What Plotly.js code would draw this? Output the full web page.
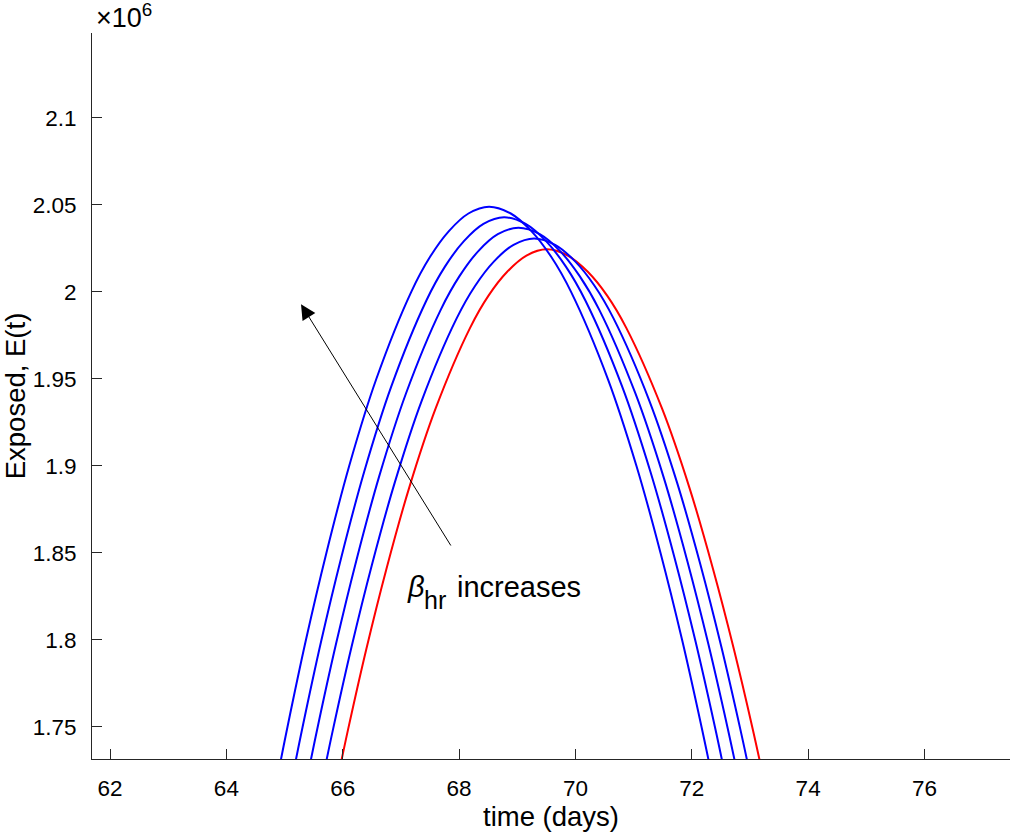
<!DOCTYPE html>
<html>
<head>
<meta charset="utf-8">
<script src="https://cdn.plot.ly/plotly-3.0.1.min.js"></script>
<style>
  html, body { margin: 0; padding: 0; background: #ffffff; }
  #chart { width: 1011px; height: 835px; }
</style>
</head>
<body>
<div id="chart"></div>
<script>
// Exposed population E(t), in units of 10^6, vs time (days)
const tBase = [65.916, 66.092, 66.406, 66.751, 67.139, 67.597, 68.189, 68.506, 68.827, 69.158, 69.507, 69.869, 70.212, 70.545, 70.874, 71.488, 71.963, 72.365, 72.723, 73.049, 73.231];
const eBase = [1.7208, 1.7486, 1.7948, 1.8408, 1.8871, 1.9330, 1.9793, 1.9978, 2.0115, 2.0208, 2.0244, 2.0208, 2.0115, 1.9978, 1.9793, 1.9330, 1.8871, 1.8408, 1.7948, 1.7486, 1.7208];

const tBeta1 = [65.657, 65.835, 66.153, 66.502, 66.894, 67.357, 67.956, 68.277, 68.601, 68.936, 69.289, 69.651, 69.995, 70.328, 70.657, 71.271, 71.747, 72.149, 72.507, 72.833, 73.016];
const eBeta1 = [1.7205, 1.7489, 1.7962, 1.8432, 1.8904, 1.9374, 1.9846, 2.0035, 2.0175, 2.0270, 2.0307, 2.0270, 2.0175, 2.0035, 1.9846, 1.9374, 1.8904, 1.8432, 1.7962, 1.7489, 1.7205];

const tBeta2 = [65.387, 65.565, 65.883, 66.232, 66.624, 67.087, 67.686, 68.007, 68.331, 68.666, 69.019, 69.387, 69.736, 70.073, 70.408, 71.031, 71.514, 71.923, 72.286, 72.617, 72.803];
const eBeta2 = [1.7203, 1.7493, 1.7975, 1.8454, 1.8937, 1.9416, 1.9898, 2.0090, 2.0234, 2.0331, 2.0368, 2.0331, 2.0234, 2.0090, 1.9898, 1.9416, 1.8937, 1.8454, 1.7975, 1.7493, 1.7203];

const tBeta3 = [65.129, 65.308, 65.626, 65.977, 66.370, 66.835, 67.436, 67.757, 68.083, 68.419, 68.773, 69.144, 69.495, 69.836, 70.173, 70.802, 71.288, 71.700, 72.067, 72.400, 72.587];
const eBeta3 = [1.7201, 1.7497, 1.7988, 1.8477, 1.8968, 1.9457, 1.9949, 2.0145, 2.0291, 2.0390, 2.0428, 2.0390, 2.0291, 2.0145, 1.9949, 1.9457, 1.8968, 1.8477, 1.7988, 1.7497, 1.7201];

const tBeta4 = [64.871, 65.050, 65.368, 65.719, 66.112, 66.577, 67.178, 67.499, 67.825, 68.161, 68.515, 68.888, 69.243, 69.586, 69.925, 70.558, 71.048, 71.463, 71.833, 72.168, 72.357];
const eBeta4 = [1.7199, 1.7500, 1.8001, 1.8500, 1.9001, 1.9499, 2.0000, 2.0200, 2.0349, 2.0450, 2.0489, 2.0450, 2.0349, 2.0200, 2.0000, 1.9499, 1.9001, 1.8500, 1.8001, 1.7500, 1.7199];

const xTickVals = [62, 64, 66, 68, 70, 72, 74, 76];
const yTickVals = [1.75, 1.8, 1.85, 1.9, 1.95, 2, 2.05, 2.1];
const yTickText = ['1.75', '1.8', '1.85', '1.9', '1.95', '2', '2.05', '2.1'];

// arrow: tail (label end) -> head
const arrowTail = [67.874, 1.8534];
const arrowHead = [65.283, 1.9929];
const labelPos = [67.07, 1.8305];

const FONT = 'Liberation Sans, Arial, Helvetica, sans-serif';
const AX = '#262626';

const lineStyle = (c) => ({ color: c, width: 2, shape: 'spline', smoothing: 1.0 });

const traces = [
  { x: tBase, y: eBase, type: 'scatter', mode: 'lines', line: lineStyle('#ff0000'), hoverinfo: 'skip' },
  { x: tBeta1, y: eBeta1, type: 'scatter', mode: 'lines', line: lineStyle('#0000ff'), hoverinfo: 'skip' },
  { x: tBeta2, y: eBeta2, type: 'scatter', mode: 'lines', line: lineStyle('#0000ff'), hoverinfo: 'skip' },
  { x: tBeta3, y: eBeta3, type: 'scatter', mode: 'lines', line: lineStyle('#0000ff'), hoverinfo: 'skip' },
  { x: tBeta4, y: eBeta4, type: 'scatter', mode: 'lines', line: lineStyle('#0000ff'), hoverinfo: 'skip' }
];

const labelFont = { family: FONT, size: 29, color: '#000000' };

const layout = {
  width: 1011,
  height: 835,
  margin: { l: 92, r: 1, t: 33, b: 76 },
  paper_bgcolor: '#ffffff',
  plot_bgcolor: '#ffffff',
  showlegend: false,
  font: { family: FONT, size: 22, color: '#000000' },
  xaxis: {
    range: [61.69, 77.47],
    tickvals: xTickVals,
    ticktext: xTickVals.map(String),
    ticks: 'inside',
    ticklen: 10,
    tickwidth: 1,
    tickcolor: AX,
    showline: true,
    linecolor: AX,
    linewidth: 1,
    mirror: false,
    showgrid: false,
    zeroline: false,
    ticklabelstandoff: 9,
    tickfont: { family: FONT, size: 22.5, color: '#000000' },
    title: { text: 'time (days)', font: { family: FONT, size: 27.5, color: '#000000' }, standoff: 4 }
  },
  yaxis: {
    range: [1.7316, 2.1487],
    tickvals: yTickVals,
    ticktext: yTickText,
    ticks: 'inside',
    ticklen: 10,
    tickwidth: 1,
    tickcolor: AX,
    showline: true,
    linecolor: AX,
    linewidth: 1,
    mirror: false,
    showgrid: false,
    zeroline: false,
    ticklabelstandoff: 10,
    tickfont: { family: FONT, size: 22.5, color: '#000000' },
    title: { text: 'Exposed, E(t)', font: { family: FONT, size: 27.5, color: '#000000' }, standoff: 8 }
  },
  annotations: [
    {
      x: arrowHead[0], y: arrowHead[1], xref: 'x', yref: 'y',
      ax: arrowTail[0], ay: arrowTail[1], axref: 'x', ayref: 'y',
      text: '', showarrow: true, arrowhead: 2, arrowsize: 3, arrowwidth: 1, arrowcolor: '#000000'
    },
    {
      x: labelPos[0], y: labelPos[1], xref: 'x', yref: 'y',
      text: '<i>β</i>', showarrow: false,
      xanchor: 'left', yanchor: 'middle', font: labelFont
    },
    {
      x: labelPos[0], y: labelPos[1], xref: 'x', yref: 'y',
      text: 'hr', showarrow: false, xshift: 17, yshift: -13,
      xanchor: 'left', yanchor: 'middle', font: { family: FONT, size: 25, color: '#000000' }
    },
    {
      x: labelPos[0], y: labelPos[1], xref: 'x', yref: 'y',
      text: 'increases', showarrow: false, xshift: 50,
      xanchor: 'left', yanchor: 'middle', font: labelFont
    },
    {
      x: 0, y: 1, xref: 'paper', yref: 'paper', xanchor: 'left', yanchor: 'bottom',
      xshift: 2, yshift: -2,
      text: '×10<sup>6</sup>', showarrow: false,
      font: { family: FONT, size: 27, color: '#000000' }
    }
  ]
};

Plotly.newPlot('chart', traces, layout, { displayModeBar: false, staticPlot: true });
</script>
</body>
</html>
